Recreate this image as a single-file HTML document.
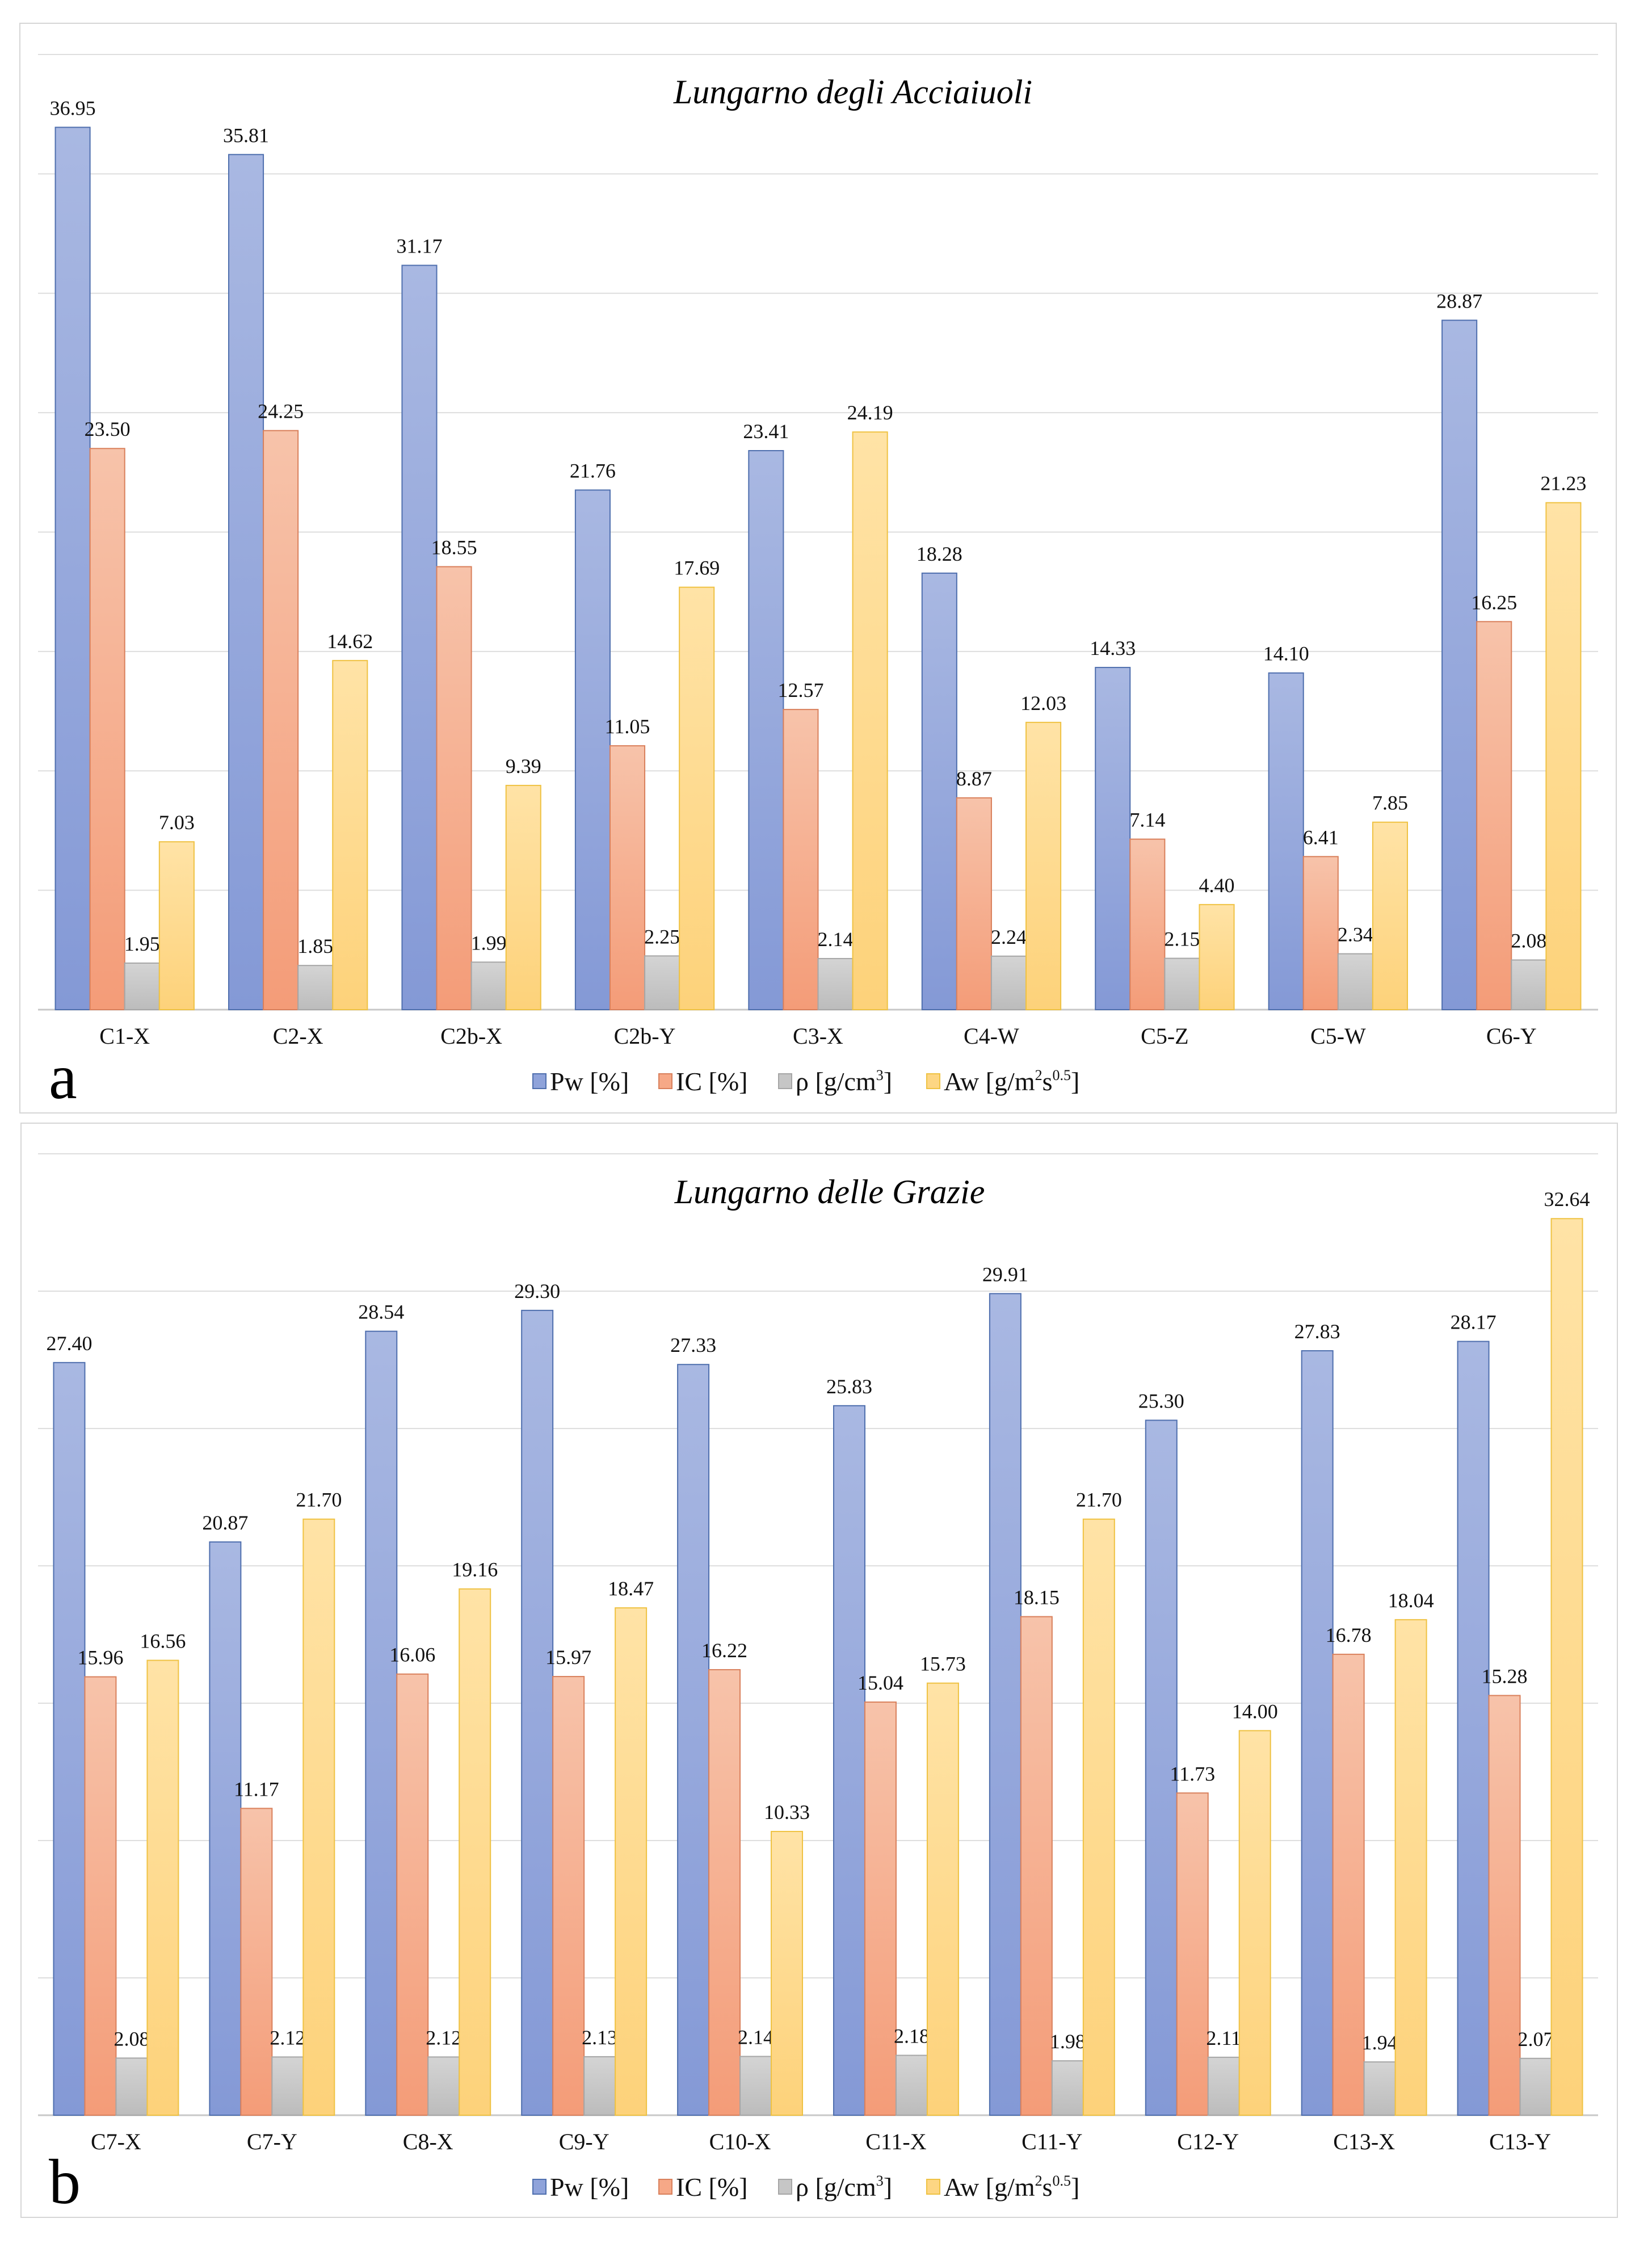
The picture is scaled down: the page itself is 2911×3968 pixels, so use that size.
<!DOCTYPE html>
<html><head><meta charset="utf-8"><style>
html,body{margin:0;padding:0;background:#fff;}
svg{display:block;font-family:"Liberation Serif",serif;}
</style></head><body>
<svg id="svg" width="2911" height="3968" viewBox="0 0 2911 3968" xmlns="http://www.w3.org/2000/svg">
<defs>
<linearGradient id="gPw" x1="0" y1="0" x2="0" y2="1"><stop offset="0" stop-color="#a9b8e2"/><stop offset="1" stop-color="#8499d6"/></linearGradient>
<linearGradient id="gIC" x1="0" y1="0" x2="0" y2="1"><stop offset="0" stop-color="#f7c3aa"/><stop offset="1" stop-color="#f49c78"/></linearGradient>
<linearGradient id="gRho" x1="0" y1="0" x2="0" y2="1"><stop offset="0" stop-color="#d4d4d4"/><stop offset="1" stop-color="#bcbcbc"/></linearGradient>
<linearGradient id="gAw" x1="0" y1="0" x2="0" y2="1"><stop offset="0" stop-color="#ffe3a6"/><stop offset="1" stop-color="#fdd27a"/></linearGradient>
</defs>
<rect x="35" y="41" width="2813" height="1920" fill="#fff" stroke="#d6d6d6" stroke-width="2"/>
<rect x="37" y="1979" width="2813" height="1928" fill="#fff" stroke="#d6d6d6" stroke-width="2"/>
<g id="chartA"></g>
<g id="chartB"></g>
</svg>
<script>
const seriesNames = ["Pw [%]", "IC [%]", "ρ [g/cm³]", "Aw [g/m²s⁰·⁵]"];
const catsA = ["C1-X","C2-X","C2b-X","C2b-Y","C3-X","C4-W","C5-Z","C5-W","C6-Y"];
const pwA = [36.95,35.81,31.17,21.76,23.41,18.28,14.33,14.10,28.87];
const icA = [23.50,24.25,18.55,11.05,12.57,8.87,7.14,6.41,16.25];
const rhoA = [1.95,1.85,1.99,2.25,2.14,2.24,2.15,2.34,2.08];
const awA = [7.03,14.62,9.39,17.69,24.19,12.03,4.40,7.85,21.23];
const catsB = ["C7-X","C7-Y","C8-X","C9-Y","C10-X","C11-X","C11-Y","C12-Y","C13-X","C13-Y"];
const pwB = [27.40,20.87,28.54,29.30,27.33,25.83,29.91,25.30,27.83,28.17];
const icB = [15.96,11.17,16.06,15.97,16.22,15.04,18.15,11.73,16.78,15.28];
const rhoB = [2.08,2.12,2.12,2.13,2.14,2.18,1.98,2.11,1.94,2.07];
const awB = [16.56,21.70,19.16,18.47,10.33,15.73,21.70,14.00,18.04,32.64];
const ticksA = [0,5,10,15,20,25,30,35,40];
const ticksB = [0,5,10,15,20,25,30,35];

const NS = "http://www.w3.org/2000/svg";
const fills = ["url(#gPw)","url(#gIC)","url(#gRho)","url(#gAw)"];
const strokes = ["#4f6fae","#d9805c","#a6a6a6","#efc243"];
const legFill = ["#8fa3da","#f6a887","#c6c6c6","#fdd683"];
const serKeys = ["pw","ic","rho","aw"];

function mk(parent, tag, attrs) {
  const e = document.createElementNS(NS, tag);
  for (const k in attrs) e.setAttribute(k, attrs[k]);
  parent.appendChild(e);
  return e;
}

function drawChart(g, cfg) {
  const {cats, series, ticks, top, base, left, right, title, titleX, titleY, letter, letterY, legendY, labelY} = cfg;
  const maxV = ticks[ticks.length - 1];
  const y = v => base - (v / maxV) * (base - top);
  const pitch = (right - left) / cats.length;
  const x = i => left + i * pitch;
  ticks.forEach((t, i) => {
    const l = mk(g, "line", {x1: left, x2: right, y1: y(t), y2: y(t), stroke: i === 0 ? "#c8c8c8" : "#dedede", "stroke-width": i === 0 ? 3 : 2});
    
    
  });
  const t = mk(g, "text", {x: titleX, y: titleY, "text-anchor": "middle", "font-size": 60, "font-style": "italic", fill: "#000"});
  t.textContent = title;
  
  
  const groupW = pitch * 0.8;
  const bw = groupW / 4;
  cats.forEach((c, i) => {
    const gx = x(i) + pitch * 0.1;
    series.forEach((vals, s) => {
      const v = vals[i];
      const bx = gx + s * bw;
      const r = mk(g, "rect", {x: bx, y: y(v), width: bw, height: base - y(v), fill: fills[s], stroke: strokes[s], "stroke-width": 2});
      
      
      const lb = mk(g, "text", {x: bx + bw / 2, y: y(v) - 22, "text-anchor": "middle", "font-size": 36, fill: "#111"});
      lb.textContent = v.toFixed(2);
      
      
    });
    const cl = mk(g, "text", {x: x(i) + pitch / 2, y: labelY, "text-anchor": "middle", "font-size": 40, fill: "#111"});
    cl.textContent = c;
    
    
  });
  const lt = mk(g, "text", {x: 86, y: letterY, "font-size": 112, fill: "#000"});
  lt.textContent = letter;
  
  
  const lx = [939, 1161, 1372, 1633];
  seriesNames.forEach((n, s) => {
    const sq = mk(g, "rect", {x: lx[s], y: legendY - 13, width: 23, height: 26, fill: legFill[s], stroke: strokes[s], "stroke-width": 2});
    
    
    const tx = mk(g, "text", {x: lx[s] + 30, y: legendY + 16, "font-size": 46, fill: "#111"});
    if (s === 2) { tx.innerHTML = 'ρ [g/cm<tspan font-size="26" dy="-18">3</tspan><tspan dy="18">]</tspan>'; }
    else if (s === 3) { tx.innerHTML = 'Aw [g/m<tspan font-size="26" dy="-18">2</tspan><tspan dy="18">s</tspan><tspan font-size="26" dy="-18">0.5</tspan><tspan dy="18">]</tspan>'; }
    else tx.textContent = n;
    
    
  });
}

drawChart(document.getElementById("chartA"), {
  cats: catsA, series: [pwA, icA, rhoA, awA], ticks: ticksA,
  top: 96, base: 1779, left: 67, right: 2816,
  title: "Lungarno degli Acciaiuoli", titleX: 1503, titleY: 182,
  letter: "a", letterY: 1935, legendY: 1905, labelY: 1839
});
drawChart(document.getElementById("chartB"), {
  cats: catsB, series: [pwB, icB, rhoB, awB], ticks: ticksB,
  top: 2033, base: 3727, left: 67, right: 2816,
  title: "Lungarno delle Grazie", titleX: 1462, titleY: 2120,
  letter: "b", letterY: 3882, legendY: 3853, labelY: 3787
});
</script>
</body></html>
